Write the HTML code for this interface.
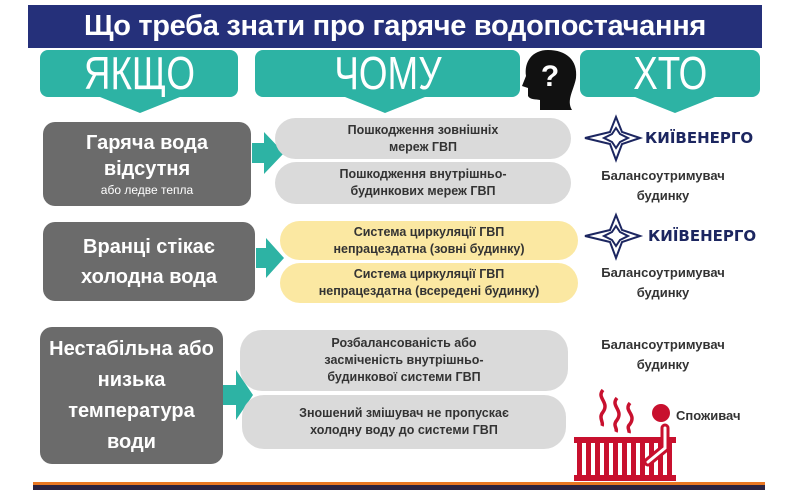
<!DOCTYPE html>
<html><head><meta charset="utf-8"><style>
body{margin:0;width:800px;height:492px;background:#fff;position:relative;overflow:hidden;font-family:"Liberation Sans","DejaVu Sans",sans-serif}
.a{position:absolute}
.title{left:28px;top:5px;width:734px;height:43px;background:#25307a;color:#fff;font-weight:bold;font-size:29px;text-align:center;line-height:43px;letter-spacing:-0.3px}
.hd{background:#2db3a4;color:#fff;text-align:center;border-radius:8px;line-height:46px;overflow:hidden}
.hd span{display:inline-block;font-size:46px;transform:scaleX(0.8)}
.gb{background:#6b6b6b;color:#fff;border-radius:12px;text-align:center;font-weight:bold;display:flex;flex-direction:column;justify-content:center}
.pill{border-radius:22px;text-align:center;font-weight:bold;font-size:12.5px;color:#333;display:flex;flex-direction:column;justify-content:center;line-height:17px}
.g{background:#dadada}.y{background:#fbe8a2}
.rt{color:#333;font-weight:bold;font-size:13px;text-align:center;line-height:20px;width:150px}
</style></head><body>
<div class="a title">Що треба знати про гаряче водопостачання</div>
<div class="a hd" style="left:40px;top:50px;width:198px;height:47px"><span>ЯКЩО</span></div>
<div class="a hd" style="left:255px;top:50px;width:265px;height:47px"><span>ЧОМУ</span></div>
<div class="a hd" style="left:580px;top:50px;width:180px;height:47px"><span>ХТО</span></div>
<svg class="a" style="left:0;top:0" width="800" height="492">
<polygon points="100,97 180,97 140,113" fill="#2db3a4"/>
<polygon points="345,97 425,97 385,113" fill="#2db3a4"/>
<polygon points="635,97 715,97 675,113" fill="#2db3a4"/>
<path d="M548,50 C532,50 524,62 526,76 L522,86 L528,88 L528,96 C530,100 536,99 540,100 L540,110 L572,110 C566,100 574,90 576,78 C578,60 566,50 548,50Z" fill="#111"/>
<text x="550" y="86" font-size="30" font-weight="bold" fill="#fff" text-anchor="middle" font-family="Liberation Sans">?</text>
<polygon points="252,143 264,143 264,132 284,153 264,174 264,163 252,163" fill="#2db3a4"/>
<polygon points="256,248 266,248 266,238 284,258 266,278 266,268 256,268" fill="#2db3a4"/>
<polygon points="222,385 236,385 236,370 253,395 236,420 236,405 222,405" fill="#2db3a4"/>
<g fill="none" stroke="#1c2660" stroke-width="2">
<path d="M616,117 L622,132 L640,138 L622,144 L616,160 L610,144 L585,138 L610,132Z"/>
<path d="M616,128 L620,134 L628,138 L620,142 L616,148 L612,142 L604,138 L612,134Z"/>
<path d="M616,215 L622,230 L640,236 L622,242 L616,258 L610,242 L585,236 L610,230Z"/>
<path d="M616,226 L620,232 L628,236 L620,240 L616,246 L612,240 L604,236 L612,232Z"/>
</g>
<text x="645" y="143" font-size="15" font-weight="bold" fill="#1c2660" font-family="DejaVu Sans">КИЇВЕНЕРГО</text>
<text x="648" y="241" font-size="15" font-weight="bold" fill="#1c2660" font-family="DejaVu Sans">КИЇВЕНЕРГО</text>
<g fill="#c8102e">
<rect x="574" y="437" width="102" height="6"/>
<rect x="574" y="475" width="102" height="6"/>
<rect x="577" y="440" width="5" height="38"/><rect x="586" y="440" width="5" height="38"/><rect x="595" y="440" width="5" height="38"/><rect x="604" y="440" width="5" height="38"/><rect x="613" y="440" width="5" height="38"/><rect x="622" y="440" width="5" height="38"/><rect x="631" y="440" width="5" height="38"/><rect x="640" y="440" width="5" height="38"/><rect x="649" y="440" width="5" height="38"/><rect x="658" y="440" width="5" height="38"/><rect x="667" y="440" width="5" height="38"/>
<circle cx="661" cy="413" r="9"/>
</g>
<path d="M665,428 L665,448 L648,462" stroke="#c8102e" stroke-width="9" fill="none" stroke-linecap="round"/>
<path d="M665,428 L665,448 L648,462" stroke="#fff" stroke-width="3" fill="none" stroke-linecap="round"/>
<g stroke="#c8102e" stroke-width="3.5" fill="none">
<path d="M603,390 C596,398 610,402 603,412 C598,418 604,422 602,426"/>
<path d="M617,398 C610,406 624,410 617,420 C612,426 618,428 616,432"/>
<path d="M630,403 C623,411 637,414 630,424 C626,428 630,430 629,433"/>
</g>
<rect x="33" y="482" width="732" height="3" fill="#e87722"/>
<rect x="33" y="485" width="732" height="5" fill="#2b2340"/>
</svg>
<div class="a gb" style="left:43px;top:122px;width:208px;height:84px;font-size:20px;line-height:26px">Гаряча вода<br>відсутня<span style="font-size:12px;font-weight:normal;line-height:16px">або ледве тепла</span></div>
<div class="a gb" style="left:43px;top:222px;width:212px;height:79px;font-size:20px;line-height:30px">Вранці стікає<br>холодна вода</div>
<div class="a gb" style="left:40px;top:327px;width:183px;height:137px;font-size:20px;line-height:31px">Нестабільна або<br>низька<br>температура<br>води</div>
<div class="a pill g" style="left:275px;top:118px;width:296px;height:41px">Пошкодження зовнішніх<br>мереж ГВП</div>
<div class="a pill g" style="left:275px;top:162px;width:296px;height:42px">Пошкодження внутрішньо-<br>будинкових мереж ГВП</div>
<div class="a pill y" style="left:280px;top:221px;width:298px;height:39px">Система циркуляції ГВП<br>непрацездатна (зовні будинку)</div>
<div class="a pill y" style="left:280px;top:263px;width:298px;height:40px">Система циркуляції ГВП<br>непрацездатна (всередені будинку)</div>
<div class="a pill g" style="left:240px;top:330px;width:328px;height:61px">Розбалансованість або<br>засміченість внутрішньо-<br>будинкової системи ГВП</div>
<div class="a pill g" style="left:242px;top:395px;width:324px;height:54px">Зношений змішувач не пропускає<br>холодну воду до системи ГВП</div>
<div class="a rt" style="left:588px;top:166px">Балансоутримувач<br>будинку</div>
<div class="a rt" style="left:588px;top:263px">Балансоутримувач<br>будинку</div>
<div class="a rt" style="left:588px;top:335px">Балансоутримувач<br>будинку</div>
<div class="a" style="left:676px;top:408px;font-size:13px;font-weight:bold;color:#333">Споживач</div>
</body></html>
